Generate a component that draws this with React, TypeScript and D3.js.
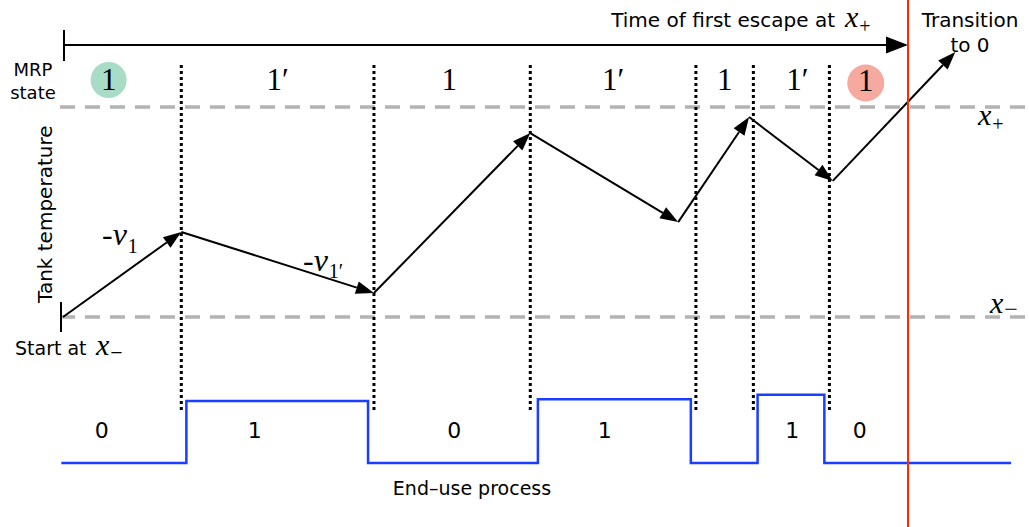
import React from 'react'
import * as d3 from 'd3'

const width = 1029
const height = 527

// MRP state switching times (dotted lines) and time of first escape
const switchTimes = [1.4, 3.68, 5.53, 7.49, 8.17, 9.07]
const escapeTime = 10
const mrpStates = ['1', '1′', '1', '1′', '1', '1′', '1']
const mrpLabelTimes = [0.54, 2.54, 4.57, 6.51, 7.83, 8.69, 9.5]

// tank temperature trajectory (0 = x−, 1 = x+)
const tempTimes = [0, 1.4, 3.68, 5.53, 7.28, 8.12, 9.11, 10.56]
const tempValues = [0, 0.405, 0.114, 0.876, 0.452, 0.952, 0.648, 1.262]

// end-use process (step function)
const processTimes = [-0.02, 1.46, 3.61, 5.62, 7.43, 8.22, 9.01, 11.22]
const processValues = [0, 1, 0, 1.03, 0, 1.1, 0, 0]
const processLabels = ['0', '1', '0', '1', '1', '0']
const processLabelTimes = [0.46, 2.27, 4.63, 6.41, 8.63, 9.43]

const SANS = 'DejaVu Sans, sans-serif'
const SERIF = 'Liberation Serif, serif'

function arrowHead(x1: number, y1: number, x2: number, y2: number, len: number, half: number) {
    const a = Math.atan2(y2 - y1, x2 - x1)
    const bx = x2 - len * Math.cos(a)
    const by = y2 - len * Math.sin(a)
    const px = -Math.sin(a) * half
    const py = Math.cos(a) * half
    return {
        base: [bx, by],
        points: `${x2},${y2} ${bx + px},${by + py} ${bx - px},${by - py}`,
    }
}

// italic symbol with a small upright subscript
const MathSym = ({ x, y, sym, sub, prefix = '', size = 30, subSize = 20, dy = 7 }:
    { x: number, y: number, sym: string, sub: string, prefix?: string, size?: number, subSize?: number, dy?: number }) => (
    <text x={x} y={y} fontFamily={SERIF} fontSize={size}>
        {prefix}<tspan fontStyle="italic">{sym}</tspan>
        <tspan fontSize={subSize} dx={1} dy={dy}>{sub}</tspan>
    </text>
)

export default function App() {
    const x = d3.scaleLinear().domain([0, escapeTime]).range([63, 908])
    const yT = d3.scaleLinear().domain([0, 1]).range([317, 107])
    const yP = d3.scaleLinear().domain([0, 1]).range([463, 401])

    const nodes = tempTimes.map((t, i) => [x(t), yT(tempValues[i])] as [number, number])

    const stepLine = d3.line<number>()
        .x((_, i) => x(processTimes[i]))
        .y(d => yP(d))
        .curve(d3.curveStepAfter)

    const top = arrowHead(x(0), 45, x(escapeTime), 45, 22, 8.5)
    const last = mrpLabelTimes.length - 1

    return (
        <svg width={width} height={height} style={{ position: 'absolute', left: 0, top: 0, background: '#fff' }}>
            {/* threshold lines x+ and x− */}
            {[1, 0].map(v => (
                <line key={v} x1={60} x2={width} y1={yT(v)} y2={yT(v)}
                    stroke="#b3b3b3" strokeWidth={3.5} strokeDasharray="15,10" />
            ))}

            {/* MRP state switch times */}
            {switchTimes.map(t => (
                <line key={t} x1={x(t)} x2={x(t)} y1={65} y2={413}
                    stroke="#000" strokeWidth={3} strokeDasharray="3,3" />
            ))}

            {/* highlighted states */}
            <circle cx={x(mrpLabelTimes[0])} cy={80} r={18} fill="#a8dcc6" />
            <circle cx={x(mrpLabelTimes[last])} cy={83} r={18.5} fill="#f6a99f" />
            {mrpStates.map((s, i) => (
                <text key={i} x={x(mrpLabelTimes[i])} y={i === last ? 91 : 90}
                    textAnchor="middle" fontFamily={SERIF} fontSize={31}>{s}</text>
            ))}

            {/* top time arrow */}
            <line x1={x(0) + 1} x2={x(0) + 1} y1={30} y2={61} stroke="#000" strokeWidth={2} />
            <line x1={x(0)} x2={top.base[0]} y1={45} y2={45} stroke="#000" strokeWidth={2} />
            <polygon points={top.points} fill="#000" />
            <text x={835} y={27} textAnchor="end" fontFamily={SANS} fontSize={20}>Time of first escape at</text>
            <MathSym x={845} y={27} sym="x" sub="+" size={30} dy={6} />

            {/* tank temperature trajectory */}
            <line x1={61} x2={61} y1={302} y2={332} stroke="#000" strokeWidth={2} />
            {nodes.slice(1).map((p, i) => {
                const q = nodes[i]
                const h = arrowHead(q[0], q[1], p[0], p[1], 18, 6.5)
                return (
                    <g key={i}>
                        <line x1={q[0]} y1={q[1]} x2={h.base[0]} y2={h.base[1]} stroke="#000" strokeWidth={2} />
                        <polygon points={h.points} fill="#000" />
                    </g>
                )
            })}

            {/* end-use process */}
            <path d={stepLine(processValues) ?? ''} fill="none" stroke="#1a3dff" strokeWidth={2.5} />
            {processLabels.map((s, i) => (
                <text key={i} x={x(processLabelTimes[i])} y={438} textAnchor="middle"
                    fontFamily={SANS} fontSize={22}>{s}</text>
            ))}
            <text x={472} y={495} textAnchor="middle" fontFamily={SANS} fontSize={19}>End–use process</text>

            {/* red escape line */}
            <line x1={x(escapeTime)} x2={x(escapeTime)} y1={0} y2={height} stroke="#ff2a00" strokeWidth={2} />

            {/* labels */}
            <text x={33} y={76} textAnchor="middle" fontFamily={SANS} fontSize={18}>MRP</text>
            <text x={33} y={99} textAnchor="middle" fontFamily={SANS} fontSize={18}>state</text>
            <text transform="translate(52,303) rotate(-90)" fontFamily={SANS} fontSize={20}>Tank temperature</text>
            <text x={15} y={355} fontFamily={SANS} fontSize={19}>Start at</text>
            <MathSym x={96} y={355} sym="x" sub="−" size={30} subSize={22} dy={5} />

            <text x={970} y={27} textAnchor="middle" fontFamily={SANS} fontSize={20}>Transition</text>
            <text x={970} y={52} textAnchor="middle" fontFamily={SANS} fontSize={20}>to 0</text>

            <MathSym x={978} y={125} sym="x" sub="+" size={30} dy={6} />
            <MathSym x={990} y={313} sym="x" sub="−" size={30} subSize={24} dy={4} />

            <MathSym x={102} y={245} prefix="-" sym="v" sub="1" size={32} dy={8} />
            <MathSym x={303} y={271} prefix="-" sym="v" sub="1′" size={32} dy={7} />
        </svg>
    )
}
